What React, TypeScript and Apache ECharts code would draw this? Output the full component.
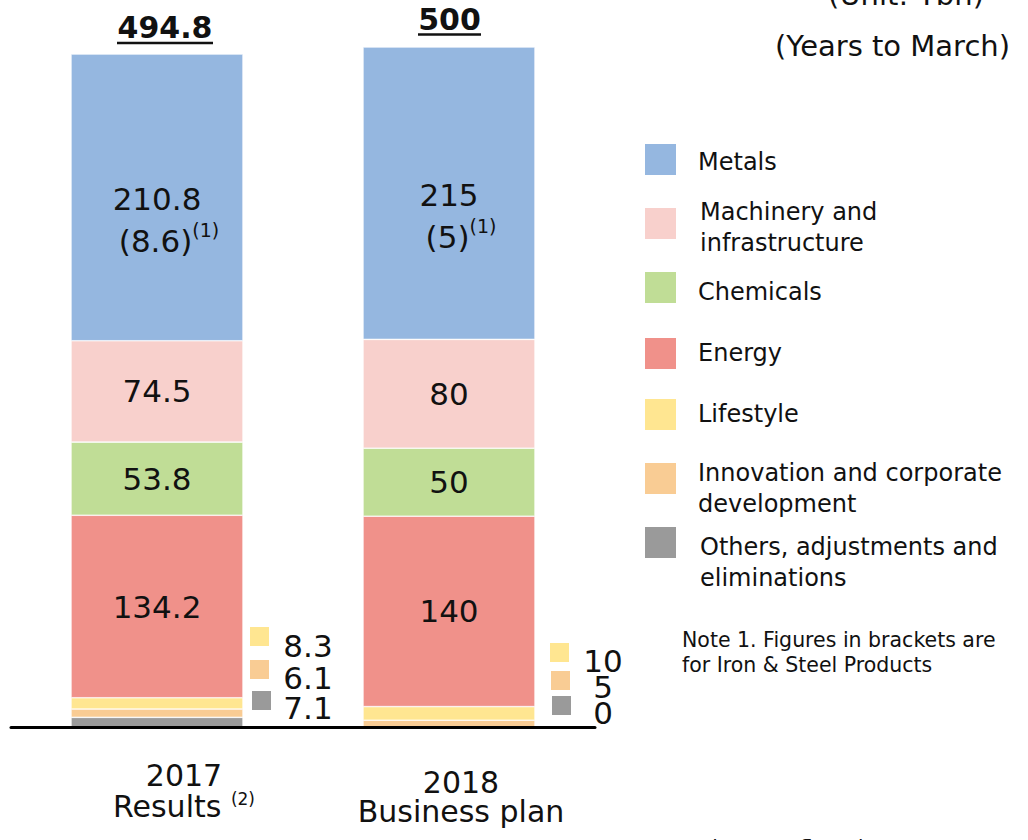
import React, { useEffect, useRef } from 'react';
import * as echarts from 'echarts';

// ---- data ----
const categories = ['2017', '2018'];
const categorySubtitles = ['Results', 'Business plan'];
const categoryNotes = ['(2)', ''];

const seriesNames = [
  'Others, adjustments and eliminations',
  'Innovation and corporate development',
  'Lifestyle',
  'Energy',
  'Chemicals',
  'Machinery and infrastructure',
  'Metals',
];
const others = [7.1, 0];
const innovation = [6.1, 5];
const lifestyle = [8.3, 10];
const energy = [134.2, 140];
const chemicals = [53.8, 50];
const machinery = [74.5, 80];
const metals = [210.8, 215];
const ironSteel = [8.6, 5];

const seriesValues = [others, innovation, lifestyle, energy, chemicals, machinery, metals];
const colors = ['#9A9A9A', '#F9CC94', '#FFE691', '#F0918A', '#C0DD96', '#F8D0CC', '#95B7E0'];

const FONT = 'DejaVu Sans';
const INK = '#111111';

const wrap = (name: string, max = 24) => {
  const words = name.split(' ');
  const lines: string[] = [];
  let cur = '';
  for (const w of words) {
    const next = cur ? cur + ' ' + w : w;
    if (next.length > max && cur) {
      lines.push(cur);
      cur = w;
    } else cur = next;
  }
  if (cur) lines.push(cur);
  return lines.join('\n');
};

const fmt = (v: number) => String(Math.round(v * 10) / 10);

function buildOption(): any {
  const graphics: any[] = [];
  const text = (t: string, x: number, y: number, size: number, extra: any = {}) => ({
    type: 'text',
    x,
    y,
    silent: true,
    z: 100,
    style: {
      text: t,
      fontSize: size,
      fontFamily: FONT,
      fill: INK,
      align: 'center',
      verticalAlign: 'middle',
      ...extra,
    },
  });

  // Header texts
  graphics.push(text('(Unit: ¥bn)', 906, -5, 29));
  graphics.push(text('(Years to March)', 892.5, 46, 29));

  // Totals
  const totals = categories.map((_, i) => seriesValues.reduce((s, arr) => s + arr[i], 0));
  const totalPos = [
    { x: 165, y: 27.5, x1: 117, x2: 213, uy: 43 },
    { x: 449.5, y: 19.5, x1: 418, x2: 481, uy: 34.5 },
  ];
  totals.forEach((t, i) => {
    const p = totalPos[i];
    graphics.push(text(fmt(t), p.x, p.y, 30, { fontWeight: 'bold' }));
    graphics.push({
      type: 'line',
      silent: true,
      z: 100,
      shape: { x1: p.x1, y1: p.uy, x2: p.x2, y2: p.uy },
      style: { stroke: INK, lineWidth: 2.5 },
    });
  });

  // Small-segment side labels (lifestyle, innovation, others)
  const smallIdx = [2, 1, 0];
  const sidePos = [
    { sq: [[250, 627], [250, 660], [252, 691]], tx: 308, ty: [646, 677.5, 708] },
    { sq: [[550, 643], [551, 671], [552, 696]], tx: 603, ty: [661, 687, 712.5] },
  ];
  categories.forEach((_, i) => {
    const p = sidePos[i];
    smallIdx.forEach((si, k) => {
      graphics.push({
        type: 'rect',
        silent: true,
        z: 100,
        shape: { x: p.sq[k][0], y: p.sq[k][1], width: 19, height: 19 },
        style: { fill: colors[si] },
      });
      graphics.push(text(fmt(seriesValues[si][i]), p.tx, p.ty[k], 31, { lineHeight: 24 }));
    });
  });

  // Category labels
  const catPos = [
    { x: 184, y: 790.5, lh: 31 },
    { x: 461, y: 797, lh: 28.5 },
  ];
  categories.forEach((c, i) => {
    const p = catPos[i];
    const note = categoryNotes[i];
    const line2 = note ? `{r|${categorySubtitles[i]} }{s|${note}}` : `{r|${categorySubtitles[i]}}`;
    graphics.push({
      type: 'text',
      x: p.x,
      y: p.y,
      silent: true,
      z: 100,
      style: {
        text: `{y|${c}}\n${line2}`,
        fontFamily: FONT,
        fontSize: 30,
        fill: INK,
        align: 'center',
        verticalAlign: 'middle',
        rich: {
          y: { fontSize: 30, lineHeight: p.lh, fontFamily: FONT, fill: INK },
          r: { fontSize: 30, lineHeight: p.lh, fontFamily: FONT, fill: INK },
          s: { fontSize: 17, lineHeight: 18, verticalAlign: 'top', fontFamily: FONT, fill: INK },
        },
      },
    });
  });

  // Legend (top to bottom: Metals ... Others)
  const legendOrder = [6, 5, 4, 3, 2, 1, 0];
  const legSqY = [144, 208, 272, 338, 399, 463, 527];
  const legTx = [698, 700, 698, 698, 698, 698, 700];
  const legTy = [162, 227, 292, 353, 414, 488, 562];
  legendOrder.forEach((si, k) => {
    graphics.push({
      type: 'rect',
      silent: true,
      z: 100,
      shape: { x: 645, y: legSqY[k], width: 31, height: 31 },
      style: { fill: colors[si] },
    });
    graphics.push(
      text(wrap(seriesNames[si]), legTx[k], legTy[k], 24, { align: 'left', lineHeight: 31 })
    );
  });

  graphics.push(
    text('Note 1. Figures in brackets are\nfor Iron & Steel Products', 682, 652.5, 20.5, {
      align: 'left',
      lineHeight: 25,
    })
  );
  graphics.push(
    text('Note 2. Figures reflect the new segments', 623, 837, 20, {
      align: 'left',
      verticalAlign: 'top',
    })
  );

  const series = seriesValues.map((vals, si) => {
    const name = seriesNames[si];
    let label: any = { show: false };
    if (name === 'Metals') {
      label = {
        show: true,
        position: 'inside',
        offset: [0, 23],
        formatter: (p: any) =>
          `{v|${fmt(p.value)}}\n{p|(${fmt(ironSteel[p.dataIndex])})}{s|(1)}`,
        rich: {
          v: { fontSize: 31, lineHeight: 42, fontFamily: FONT, color: INK },
          p: { fontSize: 31, lineHeight: 42, fontFamily: FONT, color: INK, padding: [0, 0, 0, 24] },
          s: { fontSize: 19, lineHeight: 26, verticalAlign: 'top', fontFamily: FONT, color: INK },
        },
      };
    } else if (si >= 3) {
      label = {
        show: true,
        position: 'inside',
        fontSize: 31,
        fontFamily: FONT,
        color: INK,
        formatter: (p: any) => fmt(p.value),
      };
    }
    return {
      name,
      type: 'bar',
      stack: 'total',
      barWidth: 172,
      data: vals,
      itemStyle: { color: colors[si], borderColor: '#ffffff', borderWidth: 0.6 },
      label,
      emphasis: { disabled: true },
    };
  });

  return {
    animation: false,
    textStyle: { fontFamily: FONT },
    grid: { left: 11, right: 433, top: 47, bottom: 113 },
    xAxis: {
      type: 'category',
      data: categories,
      z: 10,
      axisLine: { show: true, lineStyle: { color: '#000', width: 3 } },
      axisTick: { show: false },
      axisLabel: { show: false },
    },
    yAxis: {
      type: 'value',
      min: 0,
      max: 500,
      show: false,
      splitLine: { show: false },
    },
    series,
    graphic: graphics,
  };
}

export default function App() {
  const ref = useRef<HTMLDivElement>(null);
  useEffect(() => {
    if (!ref.current) return;
    const chart = echarts.init(ref.current, null, { renderer: 'svg' });
    chart.setOption(buildOption());
    return () => chart.dispose();
  }, []);
  return (
    <div
      ref={ref}
      style={{ position: 'absolute', left: 0, top: 0, width: 1028, height: 840, background: '#fff' }}
    />
  );
}
